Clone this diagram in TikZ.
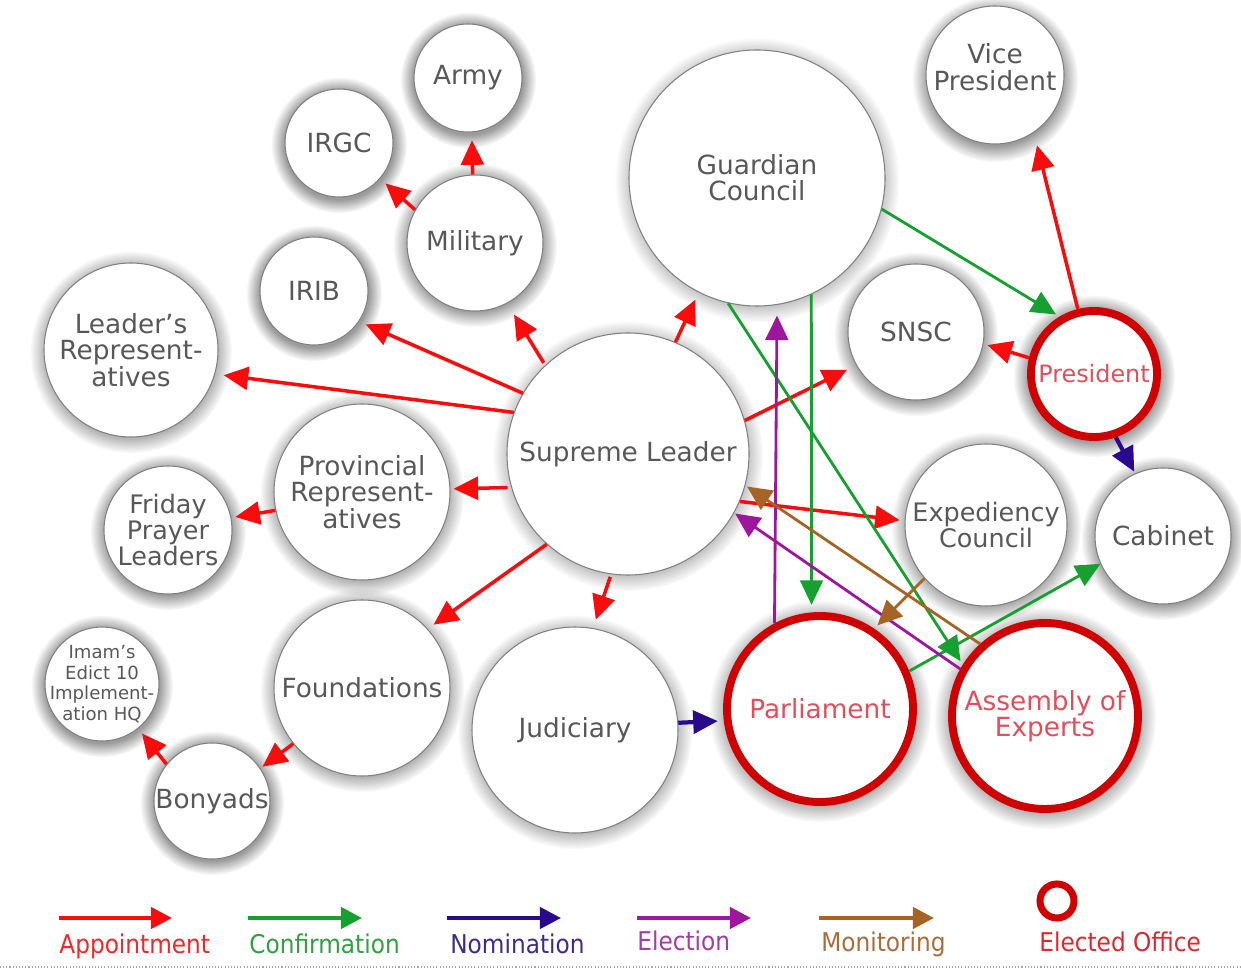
\documentclass[tikz,border=0pt]{standalone}
\usepackage{fontspec}
\setmainfont{DejaVu Sans}
\newfontfamily\legfont[FakeStretch=0.9]{DejaVu Sans}
\usetikzlibrary{shadows,fadings,arrows.meta}
\definecolor{txtgray}{RGB}{88,88,88}
\definecolor{appred}{RGB}{250,12,12}
\definecolor{confgreen}{RGB}{22,160,48}
\definecolor{nomblue}{RGB}{42,10,140}
\definecolor{elecpurple}{RGB}{158,22,158}
\definecolor{monbrown}{RGB}{165,100,35}
\definecolor{ringred}{RGB}{208,0,0}
\definecolor{eltext}{RGB}{226,78,90}
\definecolor{lgapp}{RGB}{240,40,40}
\definecolor{lgconf}{RGB}{48,160,64}
\definecolor{lgnom}{RGB}{60,44,144}
\definecolor{lgelec}{RGB}{165,60,165}
\definecolor{lgmon}{RGB}{170,108,60}
\definecolor{lgelo}{RGB}{220,40,48}
\begin{document}
\begin{tikzpicture}[x=0.02cm,y=-0.02cm,
  halo/.style={fill=black!65, opacity=0.6, path fading=circle with fuzzy edge 20 percent},
  bub/.style={circle, draw=black!50, line width=0.6pt, fill=white, inner sep=-8pt,
    minimum size={2*#1*0.02cm}, text=txtgray, align=center,
    font=\fontsize{15}{15}\selectfont},
  elect/.style={bub={#1}, draw=ringred, line width=4.5pt, text=eltext},
  arw/.style={-{Triangle[length=14pt,width=13pt]}},
  app/.style={arw, draw=appred, line width=2pt},
  conf/.style={arw, draw=confgreen, line width=1.6pt},
  nom/.style={arw, draw=nomblue, line width=2.4pt},
  elec/.style={arw, draw=elecpurple, line width=1.6pt},
  mon/.style={arw, draw=monbrown, line width=1.6pt},
  legarw/.style={line width=2.4pt, -{Triangle[length=12pt,width=12pt]}},
  leg/.style={anchor=base west, inner sep=0pt, font=\legfont\fontsize{14.7}{15}\selectfont}
]
\fill[white] (0,0) rectangle (1241,972);
\useasboundingbox (0,0) rectangle (1241,972);

% soft shadows under the circles
\foreach \x/\y/\r in {468/78/54, 339/143/54, 475/243/68, 314/291/54, 131/350/87,
  757/178/128, 995/77/69, 916/332/68, 1094/374/67, 628/454/121, 362/492/88,
  168/530/64, 986/525/81, 1163/536/68, 362/688/88, 575/730/103, 820/709/97,
  1045/716/97, 102/684/57, 212/801/58}
  {\fill[halo] (\x,\y+2) circle [radius={\r+14}];}

% nodes
\node[bub=54] (army) at (468,78) {Army};
\node[bub=54] (irgc) at (339,143) {IRGC};
\node[bub=68] (mil) at (475,243) {Military};
\node[bub=54] (irib) at (314,291) {IRIB};
\node[bub=87] (lr) at (131,350) {Leader’s\\Represent-\\atives};
\node[bub=128] (gc) at (757,178) {Guardian\\Council};
\node[bub=69] (vp) at (995,75) {Vice\\President\\[-6pt]};
\node[bub=68] (snsc) at (916,332) {SNSC};
\node[elect=63, font=\fontsize{13.6}{15}\selectfont] (pres) at (1094,374) {President};
\node[bub=121] (sl) at (628,454) {Supreme Leader};
\node[bub=88] (prov) at (362,492) {Provincial\\Represent-\\atives};
\node[bub=64, font=\fontsize{14.5}{15}\selectfont] (fri) at (168,530) {Friday\\Prayer\\Leaders};
\node[bub=81, font=\fontsize{14.5}{15}\selectfont] (exp) at (986,525) {Expediency\\Council};
\node[bub=68] (cab) at (1163,536) {Cabinet};
\node[bub=88] (found) at (362,688) {Foundations};
\node[bub=103] (jud) at (575,730) {Judiciary};
\node[elect=93] (parl) at (820,709) {Parliament};
\node[elect=93] (aoe) at (1045,716) {Assembly of\\Experts};
\node[bub=57, font=\fontsize{10.3}{11.7}\selectfont] (imam) at (102,684) {Imam’s\\Edict 10\\Implement-\\ation HQ};
\node[bub=58] (bony) at (212,801) {Bonyads};

% appointment
\draw[app, shorten >=4.5pt] (mil.92) -- (army.-86);
\draw[app, shorten >=4pt] (mil.151) -- (irgc.-41);
\draw[app, shorten >=7.4pt, shorten <=1.5pt] (sl.133) -- (mil.-62);
\draw[app, shorten >=4pt] (sl.150) -- (irib.-34);
\draw[app, shorten >=4.9pt] (sl.160) -- (lr.-16);
\draw[app, shorten >=4.5pt] (sl.67) -- (gc.-117);
\draw[app, shorten >=5.7pt] (sl.16) -- (snsc.-151);
\draw[app, shorten >=1.7pt, shorten <=2pt] (sl.196) -- (prov.2);
\draw[app, shorten >=2.3pt] (prov.192) -- (fri.11);
\draw[app, shorten >=4pt] (sl.228) -- (found.42);
\draw[app, shorten >=5pt, shorten <=1.5pt] (sl.262) -- (jud.80);
\draw[app, shorten >=2.8pt] (sl.-23) -- (exp.177);
\draw[app, shorten >=1.4pt] (found.219) -- (bony.34);
\draw[app, shorten >=3.4pt] (bony.141) -- (imam.-51);
\draw[app, shorten >=2.3pt] (pres.166) -- (snsc.-10);
\draw[app, shorten >=7.4pt] (pres.104) -- (vp.-56);

% confirmation
\draw[conf, shorten >=2.3pt] (gc.-14) -- (pres.121);
\draw[conf, shorten >=4.3pt] (gc.-65.6) -- (parl.95.5);
\draw[conf, shorten >=2.3pt] (gc.-103) -- (aoe.148);
\draw[conf] (parl.23) -- (cab.-156);

% nomination
\draw[nom, shorten >=1.1pt] (pres.-71) -- (cab.114);
\draw[nom, shorten >=3.4pt] (jud.4) -- (parl.187);

% election
\draw[elec, shorten >=6pt] (parl.118) -- (gc.-81);
\draw[elec, shorten >=0.6pt] (aoe.151) -- (sl.-29);

% monitoring
\draw[mon, shorten >=1.1pt] (aoe.132.5) -- (sl.-15.5);
\draw[mon, shorten >=2.6pt] (exp.221) -- (parl.56);

% legend
\coordinate (a1) at (59,918);  \coordinate (b1) at (172,918);
\coordinate (a2) at (248,918); \coordinate (b2) at (362,918);
\coordinate (a3) at (447,918); \coordinate (b3) at (561,918);
\coordinate (a4) at (637,918); \coordinate (b4) at (751,918);
\coordinate (a5) at (819,918); \coordinate (b5) at (934,918);
\draw[legarw, draw=appred] (a1) -- (b1);
\draw[legarw, draw=confgreen] (a2) -- (b2);
\draw[legarw, draw=nomblue] (a3) -- (b3);
\draw[legarw, draw=elecpurple] (a4) -- (b4);
\draw[legarw, draw=monbrown] (a5) -- (b5);
\node[leg, text=lgapp] (t1) at (59,953) {Appointment};
\node[leg, text=lgconf] (t2) at (249,953) {Confirmation};
\node[leg, text=lgnom] (t3) at (450,953) {Nomination};
\node[leg, text=lgelec] (t4) at (637,950) {Election};
\node[leg, text=lgmon] (t5) at (821,951) {Monitoring};
\node[circle, draw=ringred, line width=4pt, minimum size={34*0.02cm}, inner sep=0pt] (eo) at (1057,901) {};
\node[leg, text=lgelo] (t6) at (1039,951) {Elected Office};

\coordinate (d1) at (0,967); \coordinate (d2) at (1241,967);
\draw[black!35, line width=0.8pt, dash pattern=on 0.6pt off 1.2pt] (d1) -- (d2);
\end{tikzpicture}
\end{document}
